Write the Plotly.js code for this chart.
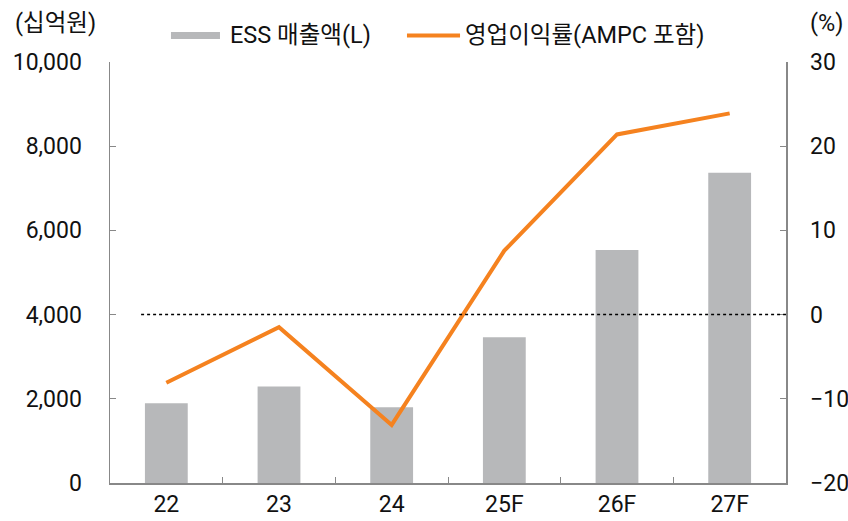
<!DOCTYPE html>
<html>
<head>
<meta charset="utf-8">
<script src="https://cdn.plot.ly/plotly-3.0.1.min.js"></script>
<style>body{margin:0;padding:0;background:#fff}#chart{width:848px;height:521px}</style>
</head>
<body>
<div id="chart"></div>
<script>
const categories = ['22', '23', '24', '25F', '26F', '27F'];
const essSales = [1893, 2290, 1800, 3460, 5535, 7370];
const opMargin = [-8.1, -1.5, -13.1, 7.6, 21.4, 23.9];
const leftTicks = [0, 2000, 4000, 6000, 8000, 10000];
const leftTickText = ['0', '2,000', '4,000', '6,000', '8,000', '10,000'];
const rightTicks = [-20, -10, 0, 10, 20, 30];
const rightTickText = ['\u221220', '\u221210', '0', '10', '20', '30'];
const seriesNames = ['ESS 매출액(L)', '영업이익률(AMPC 포함)'];

const FONT = 'Roboto, "Noto Sans CJK KR", sans-serif';
const BAR_COLOR = '#b7b8ba';
const LINE_COLOR = '#f5821f';

const traces = [
  {
    type: 'bar', x: categories, y: essSales, name: seriesNames[0],
    marker: {color: BAR_COLOR}, width: 0.38, yaxis: 'y'
  },
  {
    type: 'scatter', mode: 'lines', x: categories, y: opMargin, name: seriesNames[1],
    line: {color: LINE_COLOR, width: 4}, yaxis: 'y2'
  }
];

const legY = 1.063;

const layout = {
  width: 848, height: 521,
  margin: {l: 110, r: 62, t: 62, b: 38, autoexpand: false},
  paper_bgcolor: '#fff', plot_bgcolor: '#fff',
  font: {family: FONT, size: 23, color: '#111'},
  showlegend: false,
  xaxis: {
    type: 'category', range: [-0.5, 5.5], showline: true, linecolor: '#888', linewidth: 1.5,
    ticks: 'inside', ticklen: 6, tickcolor: '#888', tickson: 'boundaries', showgrid: false,
    tickfont: {size: 23}, zeroline: false
  },
  yaxis: {
    range: [0, 10000], tickvals: leftTicks, ticktext: leftTickText, showline: true,
    linecolor: '#888', linewidth: 1.5, ticks: 'inside', ticklen: 6, tickcolor: '#888',
    showgrid: false, zeroline: false, tickfont: {size: 23}, ticklabelstandoff: 22
  },
  yaxis2: {
    overlaying: 'y', side: 'right', range: [-20, 30], tickvals: rightTicks, ticktext: rightTickText,
    showline: true, linecolor: '#888', linewidth: 1.5, ticks: 'inside', ticklen: 6, tickcolor: '#888',
    showgrid: false, zeroline: false, tickfont: {size: 23}, ticklabelstandoff: 18
  },
  shapes: [
    {type: 'line', xref: 'paper', yref: 'y2', x0: 0.046, x1: 1, y0: 0, y1: 0,
     line: {color: '#000', width: 1.5, dash: 'dot'}},
    // legend swatches
    {type: 'rect', xref: 'paper', yref: 'paper', x0: 0.0902, x1: 0.1627, y0: 1.0546, y1: 1.0713,
     fillcolor: BAR_COLOR, line: {width: 0}},
    {type: 'line', xref: 'paper', yref: 'paper', x0: 0.4393, x1: 0.5178, y0: legY, y1: legY,
     line: {color: LINE_COLOR, width: 4}}
  ],
  annotations: [
    {text: '(십억원)', xref: 'paper', yref: 'paper', x: -0.1435, y: 1.093, xanchor: 'left', yanchor: 'middle',
     showarrow: false, font: {family: FONT, size: 23.5, color: '#111'}},
    {text: '(%)', xref: 'paper', yref: 'paper', x: 1.0325, y: 1.093, xanchor: 'left', yanchor: 'middle',
     showarrow: false, font: {family: FONT, size: 23.5, color: '#111'}},
    {text: seriesNames[0], xref: 'paper', yref: 'paper', x: 0.1746, y: legY, xanchor: 'left', yanchor: 'middle',
     showarrow: false, font: {family: FONT, size: 23.5, color: '#111'}},
    {text: seriesNames[1], xref: 'paper', yref: 'paper', x: 0.522, y: legY, xanchor: 'left', yanchor: 'middle',
     showarrow: false, font: {family: FONT, size: 23.5, color: '#111'}}
  ]
};

Plotly.newPlot('chart', traces, layout, {displayModeBar: false, staticPlot: true});
</script>
</body>
</html>
